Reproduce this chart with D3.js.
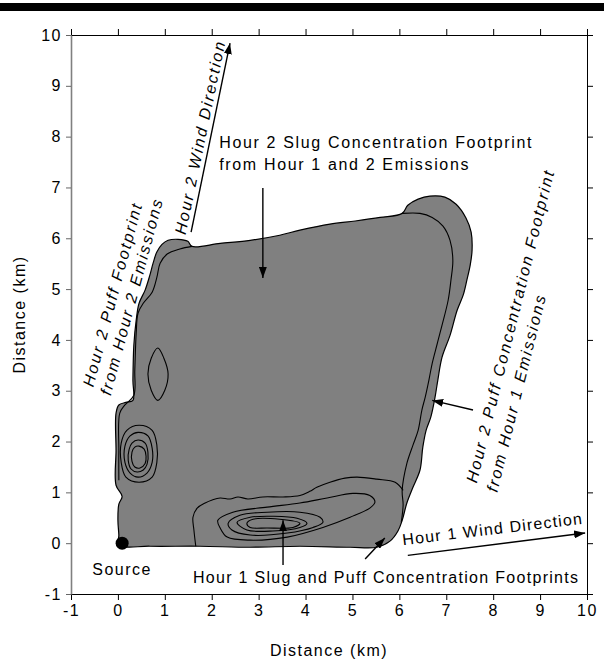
<!DOCTYPE html>
<html><head><meta charset="utf-8">
<script src="https://cdn.jsdelivr.net/npm/d3@7"></script>
<style>
body{margin:0;background:#fff}
svg{display:block}
text{font-family:"Liberation Sans",Arial,sans-serif;font-size:16px;letter-spacing:1.5px;fill:#000}
</style>
</head><body>
<svg id="c" width="604" height="664"></svg>
<script>
// ---------- data (km) ----------
const xTickValues=[-1,0,1,2,3,4,5,6,7,8,9,10];
const yTickValues=[-1,0,1,2,3,4,5,6,7,8,9,10];
const xTitle="Distance (km)";
const yTitle="Distance (km)";

// overall footprint (union of all footprints)
const outerFootprint=[[0.02,-0.04],[0.68,-0.06],[1.75,-0.06],[2.82,-0.08],[3.88,-0.06],[4.95,-0.08],[5.52,-0.08],[5.80,0.04],[5.97,0.24],[6.06,0.45],[6.16,0.79],[6.29,1.10],[6.44,1.44],[6.50,1.89],[6.57,2.22],[6.67,2.48],[6.76,2.87],[6.82,3.21],[6.91,3.66],[7.08,4.09],[7.23,4.58],[7.36,4.88],[7.44,5.18],[7.51,5.47],[7.55,5.77],[7.53,6.12],[7.42,6.40],[7.21,6.67],[6.97,6.81],[6.65,6.83],[6.40,6.77],[6.18,6.65],[6.06,6.49],[5.59,6.41],[5.06,6.34],[4.52,6.28],[3.88,6.16],[3.45,6.06],[2.82,5.96],[2.18,5.90],[1.58,5.84],[1.49,5.94],[1.28,5.98],[1.07,5.96],[0.94,5.88],[0.83,5.73],[0.75,5.51],[0.68,5.27],[0.58,4.98],[0.45,4.72],[0.39,4.39],[0.34,3.90],[0.32,3.21],[0.32,2.81],[0.17,2.77],[0.02,2.72],[-0.04,2.56],[-0.04,1.83],[-0.04,1.14],[0.09,0.92],[0.02,0.77],[0.00,0.45],[0.02,0.16]];
// hour 2 slug footprint edges (inside the union)
const slugRightEdge=[[6.04,0.41],[6.08,0.75],[6.06,1.04],[6.16,1.57],[6.29,1.93],[6.40,2.22],[6.48,2.62],[6.55,2.87],[6.63,3.21],[6.70,3.54],[6.80,3.90],[6.91,4.29],[7.04,4.78],[7.10,5.18],[7.14,5.57],[7.08,5.96],[6.93,6.24],[6.70,6.41],[6.44,6.49],[6.06,6.49]];
const slugLeftEdge=[[1.58,5.84],[1.32,5.79],[1.05,5.69],[0.90,5.51],[0.83,5.23],[0.73,4.94],[0.54,4.72],[0.43,4.53],[0.39,4.13],[0.36,3.40],[0.34,2.91],[0.15,2.72],[0.04,2.56],[0.02,1.83],[0.02,1.24]];
// hour 1 slug and puff footprint edge
const hour1Edge=[[1.66,-0.06],[1.62,0.26],[1.60,0.51],[1.69,0.69],[1.86,0.79],[2.01,0.85],[2.18,0.89],[2.39,0.87],[2.56,0.91],[2.77,0.87],[3.09,0.91],[3.52,0.91],[3.88,0.94],[4.09,1.02],[4.24,1.10],[4.52,1.20],[4.84,1.28],[5.10,1.30],[5.52,1.26],[5.91,1.20],[6.08,1.04]];
// hour 1 concentration contours
const hour1Contour1=[[2.13,0.45],[2.45,0.61],[3.18,0.71],[3.88,0.79],[4.46,0.89],[5.01,0.98],[5.37,0.94],[5.48,0.81],[5.37,0.69],[4.95,0.51],[4.37,0.31],[3.61,0.12],[2.82,0.06],[2.33,0.12],[2.18,0.30]];
const hour1Contour2=[[2.35,0.39],[2.60,0.55],[3.18,0.61],[3.88,0.61],[4.31,0.51],[4.37,0.41],[4.16,0.31],[3.61,0.20],[2.82,0.16],[2.43,0.26]];
const hour1Contour3=[[2.54,0.41],[2.82,0.51],[3.30,0.53],[3.82,0.49],[4.03,0.39],[3.88,0.31],[3.30,0.24],[2.75,0.26]];
const hour1Contour4=[[2.75,0.39],[2.88,0.47],[3.45,0.47],[3.88,0.39],[3.73,0.31],[3.18,0.30],[2.82,0.31]];
// hour 2 puff concentration contours
const hour2Contour1=[[0.45,2.32],[0.73,2.22],[0.83,1.93],[0.83,1.59],[0.73,1.30],[0.45,1.20],[0.17,1.30],[0.07,1.59],[0.07,1.97],[0.19,2.22]];
const hour2Contour2=[[0.43,2.18],[0.64,2.11],[0.73,1.87],[0.73,1.59],[0.62,1.38],[0.43,1.30],[0.26,1.38],[0.15,1.59],[0.15,1.91],[0.26,2.11]];
const hour2Contour3=[[0.43,2.03],[0.58,1.97],[0.64,1.79],[0.62,1.55],[0.54,1.44],[0.41,1.40],[0.28,1.46],[0.22,1.63],[0.24,1.85],[0.30,1.97]];
const hour2Contour4=[[0.45,1.91],[0.56,1.85],[0.60,1.71],[0.58,1.57],[0.47,1.48],[0.36,1.50],[0.30,1.61],[0.30,1.79],[0.36,1.89]];
const hour2Contour5=[[0.85,3.84],[0.98,3.64],[1.07,3.33],[1.00,3.01],[0.85,2.81],[0.71,3.01],[0.64,3.33],[0.71,3.64]];
const sourcePoint=[0.09,0];

// annotation arrows: from -> to (km)
const arrowFrom=[[1.56,6.12],[6.18,-0.24],[3.09,6.99],[7.57,2.62],[3.52,-0.43],[5.27,-0.31]];
const arrowTo  =[[2.39,9.84],[9.96,0.20],[3.09,5.22],[6.70,2.81],[3.52,0.45],[5.69,0.10]];

// annotation texts
const labelText=[
 ["Hour 2 Wind Direction"],
 ["Hour 2 Puff Footprint","from Hour 2 Emissions"],
 ["Hour 2 Puff Concentration Footprint","from Hour 1 Emissions"],
 ["Hour 1 Wind Direction"],
 ["Hour 2 Slug Concentration Footprint","from Hour 1 and 2 Emissions"],
 ["Hour 1 Slug and Puff Concentration Footprints"],
 ["Source"]
];
const labelAt=[[1.87,7.97],[0.00,4.87],[7.65,1.17],[6.08,-0.04],[2.16,7.77],[1.60,-0.79],[0.09,-0.63]];
const labelAngle=[-78.3,-75,-76,-6.8,0,0,0];

// ---------- drawing ----------
const W=604,H=664;
const m={l:71,r:587,t:35,b:594};
const svg=d3.select("#c");
const x=d3.scaleLinear().domain([-1,10]).range([m.l,m.r]);
const y=d3.scaleLinear().domain([-1,10]).range([m.b,m.t]);

svg.append("rect").attr("x",0).attr("y",3).attr("width",W).attr("height",8).attr("fill","#000");

const defs=svg.append("defs");
defs.append("marker").attr("id","ah").attr("viewBox","0 0 11 8").attr("refX",11).attr("refY",4)
 .attr("markerWidth",11).attr("markerHeight",8).attr("markerUnits","userSpaceOnUse").attr("orient","auto")
 .append("path").attr("d","M0,0L11,4L0,8Z").attr("fill","#000");

const closedLine=d3.line().x(d=>x(d[0])).y(d=>y(d[1])).curve(d3.curveCatmullRomClosed.alpha(0.5));
const openLine=d3.line().x(d=>x(d[0])).y(d=>y(d[1])).curve(d3.curveCatmullRom.alpha(0.5));

const plotG=svg.append("g");
plotG.append("path").attr("d",closedLine(outerFootprint)).attr("fill","#808080").attr("stroke","#000").attr("stroke-width",1.2);
[slugRightEdge,slugLeftEdge,hour1Edge].forEach(p=>plotG.append("path").attr("d",openLine(p)).attr("fill","none").attr("stroke","#000").attr("stroke-width",1.1));
[hour1Contour1,hour1Contour2,hour1Contour3,hour1Contour4,hour2Contour1,hour2Contour2,hour2Contour3,hour2Contour4,hour2Contour5]
 .forEach(p=>plotG.append("path").attr("d",closedLine(p)).attr("fill","none").attr("stroke","#000").attr("stroke-width",1.1));

plotG.append("circle").attr("cx",x(sourcePoint[0])).attr("cy",y(sourcePoint[1])).attr("r",6.5).attr("fill","#000");

arrowFrom.forEach((f,i)=>{
 const t=arrowTo[i];
 plotG.append("line").attr("x1",x(f[0])).attr("y1",y(f[1])).attr("x2",x(t[0])).attr("y2",y(t[1]))
  .attr("stroke","#000").attr("stroke-width",1.4).attr("marker-end","url(#ah)");
});

// axes
const fmt=d=>String(d);
const axG=svg.append("g").attr("class","axes");
const axBottom=axG.append("g").attr("transform",`translate(0,${m.b})`)
 .call(d3.axisBottom(x).tickValues(xTickValues).tickFormat(fmt).tickSize(6).tickPadding(5).tickSizeOuter(0));
const axLeft=axG.append("g").attr("transform",`translate(${m.l},0)`)
 .call(d3.axisLeft(y).tickValues(yTickValues).tickFormat(fmt).tickSize(5).tickPadding(4).tickSizeOuter(0));
const axTop=axG.append("g").attr("transform",`translate(0,${m.t})`)
 .call(d3.axisTop(x).tickValues(xTickValues).tickFormat("").tickSize(6).tickSizeOuter(0));
const axRight=axG.append("g").attr("transform",`translate(${m.r},0)`)
 .call(d3.axisRight(y).tickValues(yTickValues).tickFormat("").tickSize(6).tickSizeOuter(0));
axG.selectAll("g").attr("font-size",16).attr("font-family",null);
axG.selectAll(".tick line").attr("stroke","#000");
axLeft.select(".domain").attr("stroke","#808080").attr("stroke-width",1.6);
axLeft.selectAll(".tick line").attr("stroke","#666");

svg.append("text").attr("x",(m.l+m.r)/2).attr("y",656).attr("text-anchor","middle").text(xTitle);
svg.append("text").attr("transform",`translate(25,${(m.t+m.b)/2}) rotate(-90)`).attr("text-anchor","middle").text(yTitle);

// labels
const anchors=["middle","middle","start","start","start","start","middle"];
const italics=[true,true,true,false,false,false,false];
const spacing=[2,2,2,1.2,1.65,1.3,1.5];
const lineDx=[[0],[0,3],[0,-4],[0],[0,0],[0],[0]];
const lineDy=[[0],[0,19],[0,22],[0],[0,22],[0],[0]];
labelText.forEach((lines,i)=>{
 const t=svg.append("text")
  .attr("transform",`translate(${x(labelAt[i][0])},${y(labelAt[i][1])}) rotate(${labelAngle[i]})`)
  .attr("text-anchor",anchors[i]).attr("font-style",italics[i]?"italic":"normal")
  .style("letter-spacing",spacing[i]+"px");
 lines.forEach((s,j)=>t.append("tspan").attr("x",lineDx[i][j]).attr("y",lineDy[i][j]).text(s));
});
</script>
</body></html>
